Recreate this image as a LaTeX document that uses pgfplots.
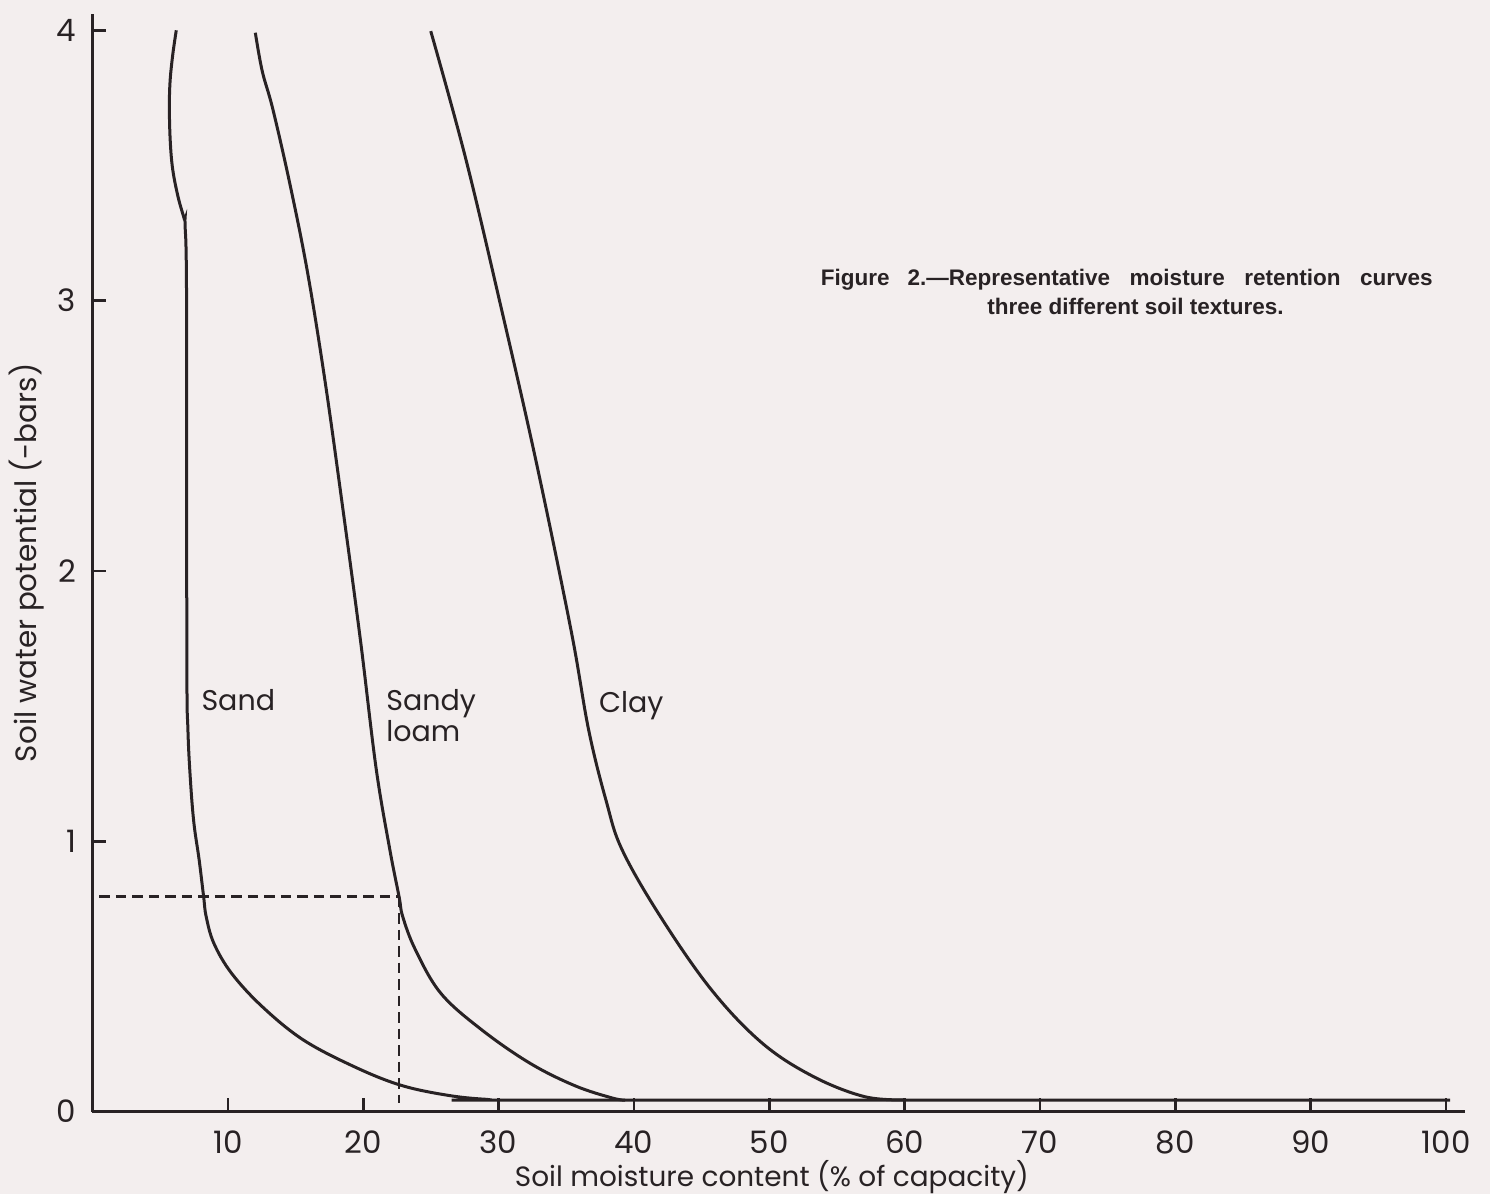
\documentclass[border=0pt]{standalone}
\usepackage{fontspec}
\setmainfont{Poppins}
\newfontfamily\capfont{Liberation Sans}
\usepackage{pgfplots}
\pgfplotsset{compat=1.18}
\definecolor{ink}{RGB}{40,34,36}
\definecolor{bg}{RGB}{243,238,238}

\begin{document}
\begin{tikzpicture}
\fill[bg] (-30.83pt,-27.5pt) rectangle (465.83pt,370.5pt);
\begin{axis}[
  at={(0pt,0pt)}, anchor=south west,
  scale only axis, width=457.5pt, height=365.8pt,
  xmin=0, xmax=101.4, ymin=0, ymax=4.06,
  axis x line*=bottom, axis y line*=left,
  axis line style={ink, line width=1pt},
  xtick={10,20,...,100}, ytick={0,1,2,3,4},
  tick align=inside, major tick length=4.5pt,
  tick style={ink, line width=0.9pt},
  /pgf/number format/assume math mode=true,
  ticklabel style={font=\fontsize{10.3}{12}\selectfont, text=ink},
  xticklabel style={yshift=-3pt},
  yticklabel style={xshift=-2pt},
  xlabel={Soil moisture content (\% of capacity)},
  ylabel={Soil water potential (-bars)},
  label style={text=ink},
  xlabel style={font=\fontsize{9.3}{11}\selectfont, at={(axis description cs:0.495,-0.06)}, anchor=center},
  ylabel style={font=\fontsize{9.8}{12}\selectfont, at={(axis description cs:-0.0477,0.50)}, anchor=center},
  clip=false,
]
% Sand
\addplot[ink, line width=1pt, smooth, tension=0.6] coordinates {
 (6.19,4.0) (5.93,3.91) (5.73,3.81) (5.68,3.707) (5.75,3.585) (5.93,3.484)
 (6.33,3.382) (6.79,3.30) (6.84,3.28) (6.95,2.997) (6.97,1.678) (7.05,1.413)
 (7.23,1.23) (7.49,1.068) (7.88,0.931) (8.21,0.795) (8.4,0.721)
 (8.97,0.622) (10.28,0.511) (12.54,0.388) (15.57,0.265) (19.33,0.166)
 (22.73,0.098) (26.12,0.061) (29.14,0.045) (32.53,0.042) (100.3,0.042)
};
% Sandy loam
\addplot[ink, line width=1pt, smooth, tension=0.6] coordinates {
 (12.03,3.991) (12.54,3.849) (13.33,3.707) (14.62,3.423) (15.91,3.098)
 (17.21,2.692) (18.51,2.225) (19.81,1.738) (20.95,1.271) (21.97,0.968)
 (22.65,0.795) (22.92,0.721) (23.86,0.598) (25.74,0.437) (28.76,0.302)
 (32.34,0.178) (35.66,0.095) (38.4,0.050) (39.35,0.042)
};
% Clay
\addplot[ink, line width=1pt, smooth, tension=0.6] coordinates {
 (24.99,3.997) (27.58,3.524) (30.18,2.976) (32.76,2.408) (35.36,1.779)
 (36.65,1.413) (37.95,1.149) (39.13,0.968) (41.96,0.721) (45.73,0.450)
 (49.5,0.252) (53.27,0.129) (57.04,0.055) (60.05,0.043)
};
% dashed guide lines
\addplot[ink, line width=0.9pt, dash pattern=on 3.5pt off 2pt] coordinates {(0.5,0.795) (22.65,0.795)};
\addplot[ink, line width=0.9pt, dash pattern=on 3.5pt off 2pt] coordinates {(22.65,0.795) (22.65,0.03)};
% curve labels
\node[anchor=base west, inner sep=0, text=ink, font=\fontsize{9.5}{11}\selectfont] at (axis cs:8.01,1.484) {Sand};
\node[anchor=base west, inner sep=0, text=ink, font=\fontsize{9.5}{11}\selectfont] at (axis cs:21.67,1.484) {Sandy};
\node[anchor=base west, inner sep=0, text=ink, font=\fontsize{9.5}{11}\selectfont] at (axis cs:21.67,1.369) {loam};
\node[anchor=base west, inner sep=0, text=ink, font=\fontsize{9.5}{11}\selectfont] at (axis cs:37.38,1.478) {Clay};
% caption
\node[anchor=west, inner sep=0, text=ink, font=\capfont\bfseries\fontsize{7.5}{9}\selectfont] at (axis cs:53.77,3.077) {Figure\hspace{6pt}2.—Representative\hspace{6.5pt}moisture\hspace{6.5pt}retention\hspace{6.5pt}curves};
\node[anchor=center, inner sep=0, text=ink, font=\capfont\bfseries\fontsize{7.5}{9}\selectfont] at (axis cs:77.05,2.98) {three different soil textures.};
\end{axis}
\pgfresetboundingbox
\path[use as bounding box] (-30.83pt,-27.5pt) rectangle (465.83pt,370.5pt);
\end{tikzpicture}
\end{document}
